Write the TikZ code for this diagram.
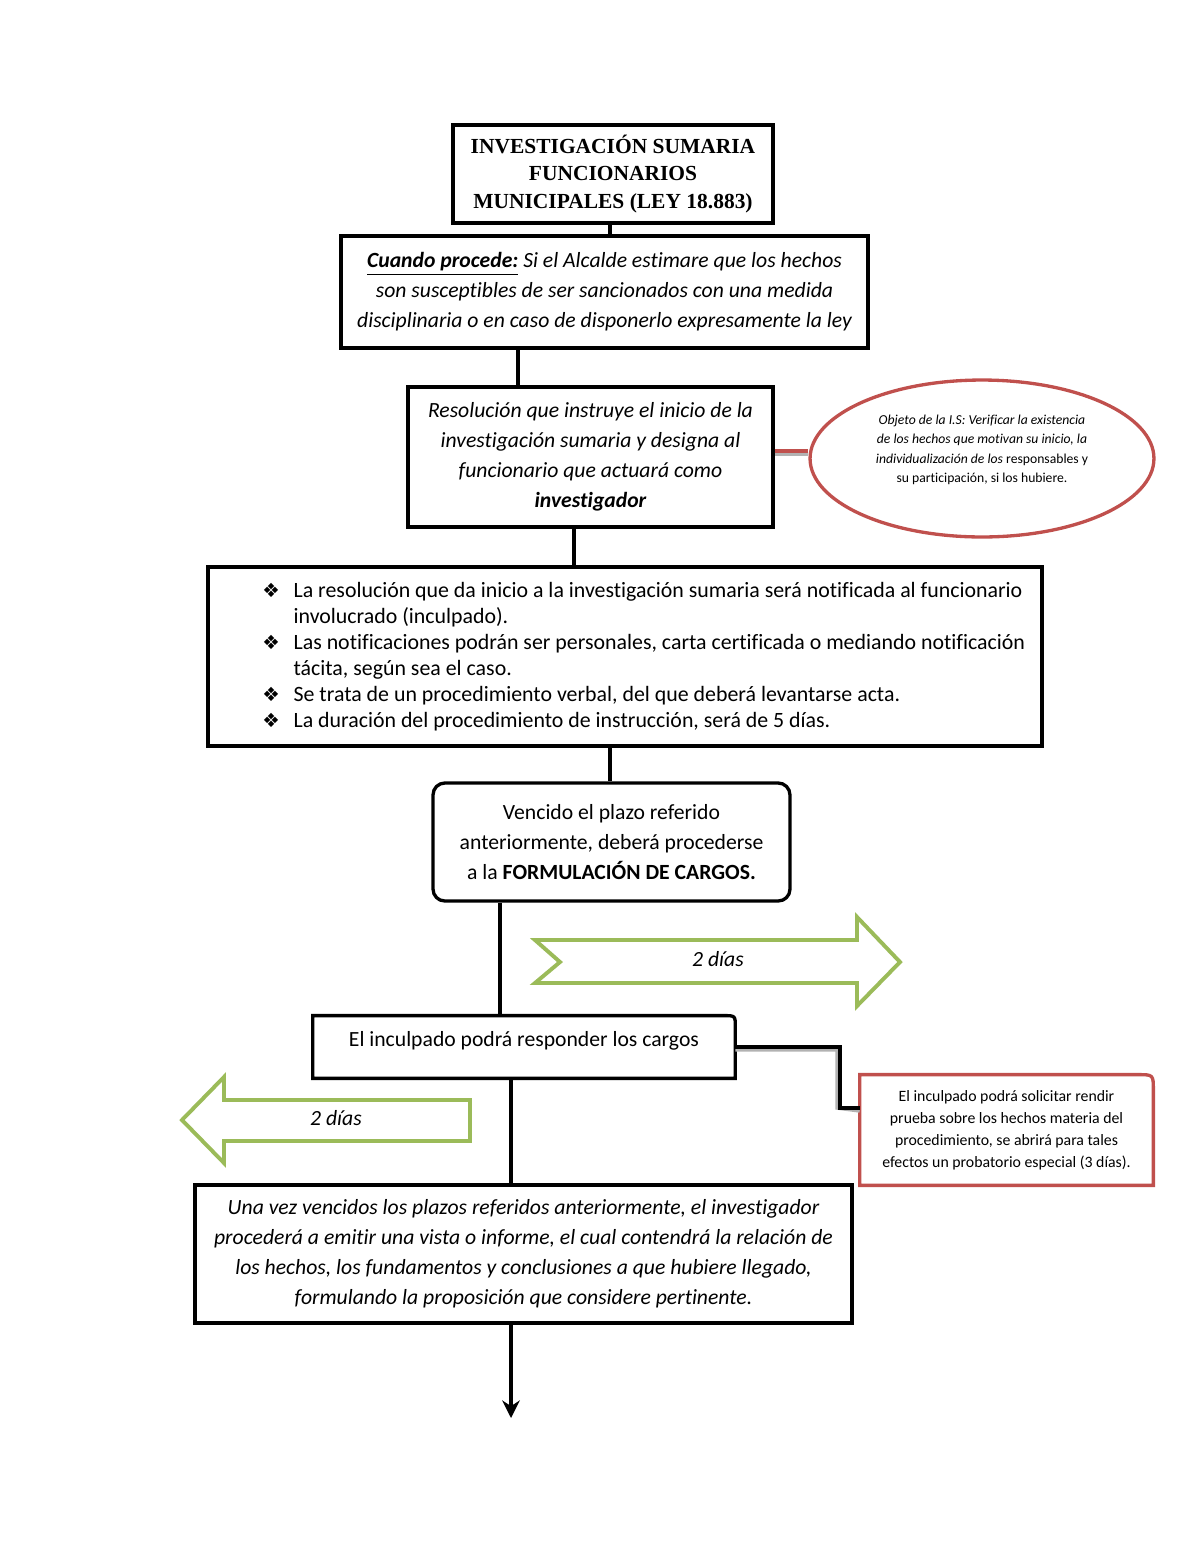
\documentclass[tikz,border=0pt]{standalone}
\usepackage{fontspec}
\setmainfont[Ligatures=NoCommon]{Carlito}
\newfontfamily\titlefont{Liberation Serif}
\newfontfamily\dingfont{DejaVu Sans}
\usetikzlibrary{positioning,calc,shapes.geometric,arrows.meta}

\definecolor{notered}{HTML}{C0504D}
\definecolor{daysgreen}{HTML}{9BBB59}

\tikzset{
  box/.style={draw, line width=1.7pt, inner sep=0pt, align=center,
    font=\fontsize{11.1}{15.4}\selectfont},
  plainbox/.style={inner sep=0pt, align=center,
    font=\fontsize{11.1}{15.4}\selectfont},
  link/.style={line width=1.8pt},
  days/.style={draw=daysgreen, line width=2pt, line join=miter},
}
\newcommand{\bul}{\makebox[16pt][l]{\dingfont\fontsize{10}{10}\selectfont ❖}}

\begin{document}
\begin{tikzpicture}[x=0.018cm, y=-0.018cm]
  \useasboundingbox (0,0) rectangle (1200,1553);
  % Define nodes
  \node[box, line width=2pt, minimum width=5.76cm, minimum height=1.764cm,
        font=\titlefont\bfseries\fontsize{11}{14.3}\selectfont]
        (titulo) at (613,174) {INVESTIGACIÓN SUMARIA\\ FUNCIONARIOS\\ MUNICIPALES (LEY 18.883)};
  \node[box, minimum width=9.486cm, minimum height=2.016cm, font=\itshape\fontsize{11.1}{15.4}\selectfont]
        (procede) at (604.5,292) {\underline{\textbf{Cuando procede:}} Si el Alcalde estimare que los hechos\\
        son susceptibles de ser sancionados con una medida\\
        disciplinaria o en caso de disponerlo expresamente la ley};
  \node[box, minimum width=6.57cm, minimum height=2.52cm, font=\itshape\fontsize{11.1}{15.4}\selectfont]
        (resol) at (590.5,457) {Resolución que instruye el inicio de la\\
        investigación sumaria y designa al\\ funcionario que actuará como\\ \textbf{investigador}};
  \node[draw=notered, ellipse, line width=1.7pt, inner sep=0pt, align=center,
        minimum width=6.192cm, minimum height=2.826cm, font=\fontsize{7}{10}\selectfont]
        (objeto) at (982,458.5) {\raisebox{4.6pt}[\height][\depth]{\begin{tabular}{@{}c@{}}
        \textit{Objeto de la I.S: Verificar la existencia}\\
        \textit{de los hechos que motivan su inicio, la}\\
        \textit{individualización de los} responsables y\\
        su participación, si los hubiere.\end{tabular}}};
  \node[box, minimum width=15.012cm, minimum height=3.222cm] (notif) at (625,656.5) {};
  \node[plainbox, anchor=west, align=left, font=\fontsize{11.2}{13.3}\selectfont]
        (lista) at ([xshift=1.0cm]notif.west) {%
        \bul La resolución que da inicio a la investigación sumaria será notificada al funcionario\\
        \hspace*{16pt}involucrado (inculpado).\\
        \bul Las notificaciones podrán ser personales, carta certificada o mediando notificación\\
        \hspace*{16pt}tácita, según sea el caso.\\
        \bul Se trata de un procedimiento verbal, del que deberá levantarse acta.\\
        \bul La duración del procedimiento de instrucción, será de 5 días.};
  \node[box, rounded corners=6pt, minimum width=6.426cm, minimum height=2.124cm]
        (cargos) at (611.5,842) {Vencido el plazo referido\\ anteriormente, deberá procederse\\
        a la \textbf{FORMULACIÓN DE CARGOS.}};
  \node[plainbox, minimum width=7.596cm, minimum height=1.116cm]
        (responde) at (524,1047) {\raisebox{8pt}{El inculpado podrá responder los cargos}};
  \node[plainbox, minimum width=5.274cm, minimum height=1.98cm, font=\fontsize{8.1}{11.3}\selectfont]
        (prueba) at (1006.5,1130) {El inculpado podrá solicitar rendir\\ prueba sobre los hechos materia del\\
        procedimiento, se abrirá para tales\\ efectos un probatorio especial (3 días).};
  \node[box, minimum width=11.826cm, minimum height=2.484cm, font=\itshape\fontsize{11.1}{15.4}\selectfont]
        (vista) at (523.5,1254) {Una vez vencidos los plazos referidos anteriormente, el investigador\\
        procederá a emitir una vista o informe, el cual contendrá la relación de\\
        los hechos, los fundamentos y conclusiones a que hubiere llegado,\\
        formulando la proposición que considere pertinente.};
  \coordinate (fin) at (511,1418);
  \coordinate (codo) at (840,1108);

  % Boxes with one round corner
  \draw[line width=1.7pt] (responde.south west) -- (responde.north west) -- ([xshift=-6pt]responde.north east)
    .. controls (responde.north east) .. ([yshift=-6pt]responde.north east) -- (responde.south east) -- cycle;
  \draw[line width=1.7pt, draw=notered] (prueba.south west) -- (prueba.north west) -- ([xshift=-8pt]prueba.north east)
    .. controls (prueba.north east) .. ([yshift=-8pt]prueba.north east) -- (prueba.south east) -- cycle;

  % Green day arrows
  \draw[days] (535,940) -- (857,940) -- (857,917) -- (900,962) -- (857,1006) -- (857,983)
    -- (535,983) -- (560,962) -- cycle;
  \node[font=\itshape\fontsize{11.1}{15.4}\selectfont] (dias1) at (718,959) {2 días};
  \draw[days] (182,1120) -- (224,1077) -- (224,1100) -- (470,1100) -- (470,1141) -- (224,1141)
    -- (224,1163) -- cycle;
  \node[font=\itshape\fontsize{11.1}{15.4}\selectfont] (dias2) at (336,1118) {2 días};

  % Connect the nodes
  \draw[link] (titulo.south -| 610,0) -- (procede.north -| 610,0);
  \draw[link] (procede.south -| 518,0) -- (resol.north -| 518,0);
  \draw[link] (resol.south -| 574,0) -- (notif.north -| 574,0);
  \draw[link] (notif.south -| 610,0) -- (cargos.north -| 610,0);
  \draw[link] (cargos.south -| 500,0) -- (responde.north -| 500,0);
  \draw[link] (responde.south -| 511,0) -- (vista.north -| 511,0);
  \draw[link, -{Stealth[length=9pt, width=9pt]}] (vista.south -| fin) -- (fin);
  \draw[line width=1.8pt, gray!60] ([yshift=-1.5pt]resol.east |- 0,451) -- ([yshift=-1.5pt]objeto.west |- 0,451);
  \draw[link, notered] (resol.east |- 0,451) -- (objeto.west |- 0,451);
  \draw[line width=1.8pt, gray!60] ([yshift=-1.5pt]responde.east |- 0,1047) -| ([xshift=-1.5pt]codo) -- ([yshift=-1.5pt]prueba.west |- codo);
  \draw[link] (responde.east |- 0,1047) -| (codo) -- (prueba.west |- codo);
\end{tikzpicture}
\end{document}
